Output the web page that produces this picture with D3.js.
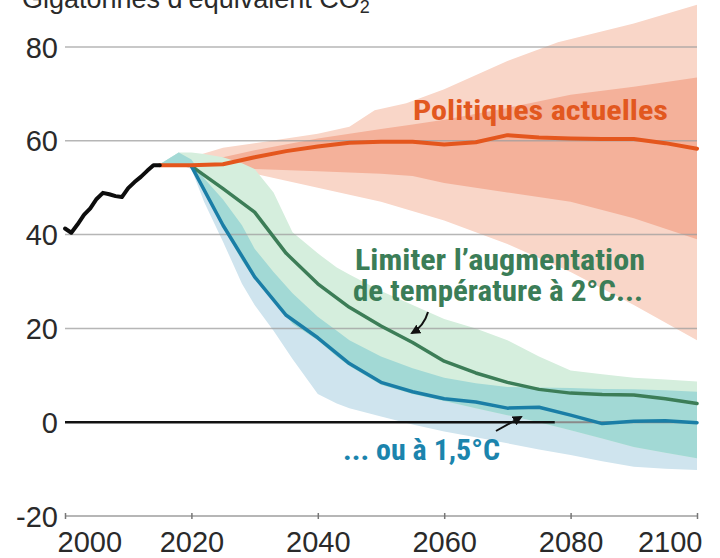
<!DOCTYPE html>
<html><head><meta charset="utf-8">
<script src="https://cdn.jsdelivr.net/npm/d3@7"></script>
<style>
html,body{margin:0;padding:0;background:#fff;}
svg{display:block;}
</style></head>
<body>
<svg id="chart" width="720" height="558"></svg>
<script>
// ---- data ----
const yTicks = [-20, 0, 20, 40, 60, 80];
const xTicks = [2000, 2020, 2040, 2060, 2080, 2100];
const titleText = "Gigatonnes d’équivalent CO";

const histYears  = [2000,2001,2002,2003,2004,2005,2006,2007,2008,2009,2010,2011,2012,2013,2014,2015];
const histValues = [41.3,40.4,42.2,44.2,45.6,47.6,48.9,48.6,48.2,48.0,49.9,51.2,52.3,53.6,54.8,54.8];

const projYears      = [2015,2020,2025,2030,2035,2040,2045,2050,2055,2060,2065,2070,2075,2080,2085,2090,2095,2100];
const currentPolicy  = [54.8,54.8,55.0,56.5,57.8,58.8,59.6,59.8,59.8,59.2,59.7,61.2,60.7,60.5,60.4,60.4,59.5,58.3];
const twoDegrees     = [54.8,54.6,49.8,44.8,36.0,29.5,24.5,20.5,17.0,13.0,10.5,8.5,7.0,6.2,5.9,5.8,5.0,4.0];
const onePointFive   = [54.8,54.6,42.0,31.0,22.8,18.0,12.5,8.5,6.5,5.0,4.3,3.0,3.2,1.5,-0.3,0.2,0.3,-0.1];

const policyOuterYears = [2015,2020,2025,2030,2035,2040,2045,2049,2054,2060,2070,2078,2090,2100];
const policyOuterHigh  = [55,56.5,58.5,59.5,60.5,61.5,63,66.5,68,71,77,81,85,89];
const policyOuterLowYears = [2015,2020,2025,2030,2035,2040,2050,2060,2070,2080,2090,2100];
const policyOuterLow   = [55,54.5,54,53,51.5,50,47,43,38,32,25,17.5];

const policyInnerYears = [2015,2020,2025,2030,2040,2050,2055,2060,2070,2080,2090,2100];
const policyInnerHigh  = [55,55.5,56.5,58,60.5,62.5,63.5,64.5,67,69.8,71.5,73.5];
const policyInnerLow   = [55,54.5,54,54,53.5,53,52.5,51,49,47,43.5,39];

const bandYears = [2015,2018,2020,2022,2025,2028,2030,2033,2036,2040,2043,2045,2050,2055,2060,2065,2070,2075,2080,2085,2090,2095,2100];
const twoHigh   = [55,57.5,57.5,57.2,56.5,55.2,54,49,40.5,36,33,31.5,28,25,22,20,17.5,14,11,10.2,9.5,9.1,8.7];
const twoLow    = [55,55,54.5,49.5,41.5,34.5,30.5,26,21,17.5,14,12,8,6,4.5,3,1.5,0,-1.7,-3.5,-5.3,-6.5,-7.7];
const oneHigh   = [55,57.5,56,52,47.5,42,37,32,27.5,22.5,19.5,17.5,14,11.5,9.5,8.3,7.5,7.4,7.3,7.1,7,6.8,6.5];
const oneLow    = [55,55,54,47,38.5,29.5,25,19.5,13.5,6,4,3,1.2,-0.5,-2,-3.2,-4.5,-5.8,-7,-8.3,-9.5,-9.9,-10.2];

const labels = {
  policy: "Politiques actuelles",
  two1: "Limiter l’augmentation",
  two2: "de température à 2°C...",
  one: "... ou à 1,5°C"
};

// ---- scales ----
const svg = d3.select("#chart");
const x = d3.scaleLinear().domain([2000, 2100]).range([65, 697]);
const y = d3.scaleLinear().domain([-20, 80]).range([516, 47]);

const font = "'Liberation Sans', Arial, sans-serif";
const condensed = "'Liberation Sans Narrow', 'Roboto Condensed', 'DejaVu Sans Condensed', Roboto, sans-serif";

function band(years, hi, lo, color, loYears) {
  const ly = loYears || years;
  const top = years.map((yr, i) => [x(yr), y(hi[i])]);
  const bot = ly.map((yr, i) => [x(yr), y(lo[i])]).reverse();
  svg.append("path")
    .attr("d", d3.line()(top.concat(bot)) + "Z")
    .attr("fill", color);
}

// orange bands
band(policyOuterYears, policyOuterHigh, policyOuterLow, "#f9d6c8", policyOuterLowYears);
band(policyInnerYears, policyInnerHigh, policyInnerLow, "#f4b19a");

// green / blue bands + overlap
band(bandYears, oneHigh, oneLow, "#cfe4ee");
band(bandYears, twoHigh, twoLow, "#d5eedd");
const ovHigh = bandYears.map((_, i) => Math.min(oneHigh[i], twoHigh[i]));
const ovLow  = bandYears.map((_, i) => Math.max(oneLow[i], twoLow[i]));
band(bandYears, ovHigh, ovLow, "#a2d9d5");

// gridlines
const grid = svg.append("g");
yTicks.filter(v => v !== 0 && v !== -20).forEach(v => {
  grid.append("line")
    .attr("x1", x(2000)).attr("x2", x(2100))
    .attr("y1", y(v)).attr("y2", y(v))
    .attr("stroke", "#9e9e9e").attr("stroke-opacity", 0.75).attr("stroke-width", 1.5);
});
// zero line
grid.append("line")
  .attr("x1", x(2077.5)).attr("x2", x(2100))
  .attr("y1", y(0)).attr("y2", y(0))
  .attr("stroke", "#8a8a8a").attr("stroke-width", 2);
grid.append("line")
  .attr("x1", x(2000)).attr("x2", x(2077.5))
  .attr("y1", y(0)).attr("y2", y(0))
  .attr("stroke", "#111").attr("stroke-width", 2.5);

// bottom axis
const xAxis = d3.axisBottom(x).tickValues(xTicks).tickSize(6).tickSizeOuter(0).tickFormat(d => String(d));
const gx = svg.append("g").attr("transform", `translate(0,${y(-20) - 3})`).call(xAxis);
gx.select(".domain").attr("d", `M${x(2000)},3H${x(2100)}`).attr("stroke", "#9e9e9e").attr("stroke-width", 1.5);
gx.selectAll(".tick line").attr("stroke", "#777").attr("stroke-width", 1.5);
gx.selectAll(".tick text")
  .attr("y", 39).attr("dy", 0)
  .attr("font-family", font).attr("font-size", 29).attr("fill", "#2a2a2a")
  .attr("text-anchor", d => d === 2000 ? "start" : d === 2100 ? "end" : "middle")
  .attr("x", d => d === 2000 ? -8 : d === 2100 ? 5 : 0);

// left labels
const yAxis = d3.axisLeft(y).tickValues(yTicks).tickSize(0).tickFormat(d => String(d));
const gy = svg.append("g").attr("transform", `translate(58,0)`).call(yAxis);
gy.select(".domain").remove();
gy.selectAll(".tick text")
  .attr("x", 0).attr("dy", 10)
  .attr("font-family", font).attr("font-size", 29).attr("fill", "#2a2a2a")
  .attr("text-anchor", "end");

// title
const t = svg.append("text").attr("x", 22).attr("y", 8)
  .attr("font-family", font).attr("font-size", 27).attr("fill", "#2a2a2a").text(titleText);
t.append("tspan").attr("font-size", 18).attr("dy", 5).text("2");

// lines
const line = d3.line().x(d => x(d[0])).y(d => y(d[1])).curve(d3.curveLinear);
function drawLine(years, vals, color, w) {
  svg.append("path").attr("d", line(years.map((yr, i) => [yr, vals[i]])))
    .attr("fill", "none").attr("stroke", color).attr("stroke-width", w)
    .attr("stroke-linejoin", "round").attr("stroke-linecap", "round");
}
drawLine(projYears.slice(1), twoDegrees.slice(1), "#3c7d57", 3.5);
drawLine(projYears.slice(1), onePointFive.slice(1), "#1a7ea6", 3.5);
drawLine(projYears, currentPolicy, "#e4561d", 4);
drawLine(histYears, histValues, "#0d0d0d", 4);

// annotations
svg.append("text").attr("x", 413).attr("y", 120)
  .attr("font-family", condensed).attr("font-weight", "bold").attr("font-size", 28)
  .attr("fill", "#e2581f").attr("textLength", 255).attr("lengthAdjust", "spacingAndGlyphs")
  .text(labels.policy);
svg.append("text").attr("x", 355).attr("y", 270)
  .attr("font-family", condensed).attr("font-weight", "bold").attr("font-size", 29)
  .attr("fill", "#3b7d57").attr("textLength", 290).attr("lengthAdjust", "spacingAndGlyphs")
  .text(labels.two1);
svg.append("text").attr("x", 353).attr("y", 301)
  .attr("font-family", condensed).attr("font-weight", "bold").attr("font-size", 29)
  .attr("fill", "#3b7d57").attr("textLength", 290).attr("lengthAdjust", "spacingAndGlyphs")
  .text(labels.two2);
svg.append("text").attr("x", 343).attr("y", 460)
  .attr("font-family", condensed).attr("font-weight", "bold").attr("font-size", 29)
  .attr("fill", "#1b84ad").attr("textLength", 157).attr("lengthAdjust", "spacingAndGlyphs")
  .text(labels.one);

// arrows
const defs = svg.append("defs");
defs.append("marker").attr("id", "ah").attr("viewBox", "0 0 10 10")
  .attr("refX", 8).attr("refY", 5).attr("markerWidth", 5).attr("markerHeight", 5)
  .attr("orient", "auto")
  .append("path").attr("d", "M0,0L10,5L0,10Z").attr("fill", "#111");
svg.append("path").attr("d", "M428,312 Q424,326 412,333")
  .attr("fill", "none").attr("stroke", "#111").attr("stroke-width", 2).attr("marker-end", "url(#ah)");
svg.append("path").attr("d", "M496,431 Q512,422 521,417")
  .attr("fill", "none").attr("stroke", "#111").attr("stroke-width", 2).attr("marker-end", "url(#ah)");
</script>
</body></html>
